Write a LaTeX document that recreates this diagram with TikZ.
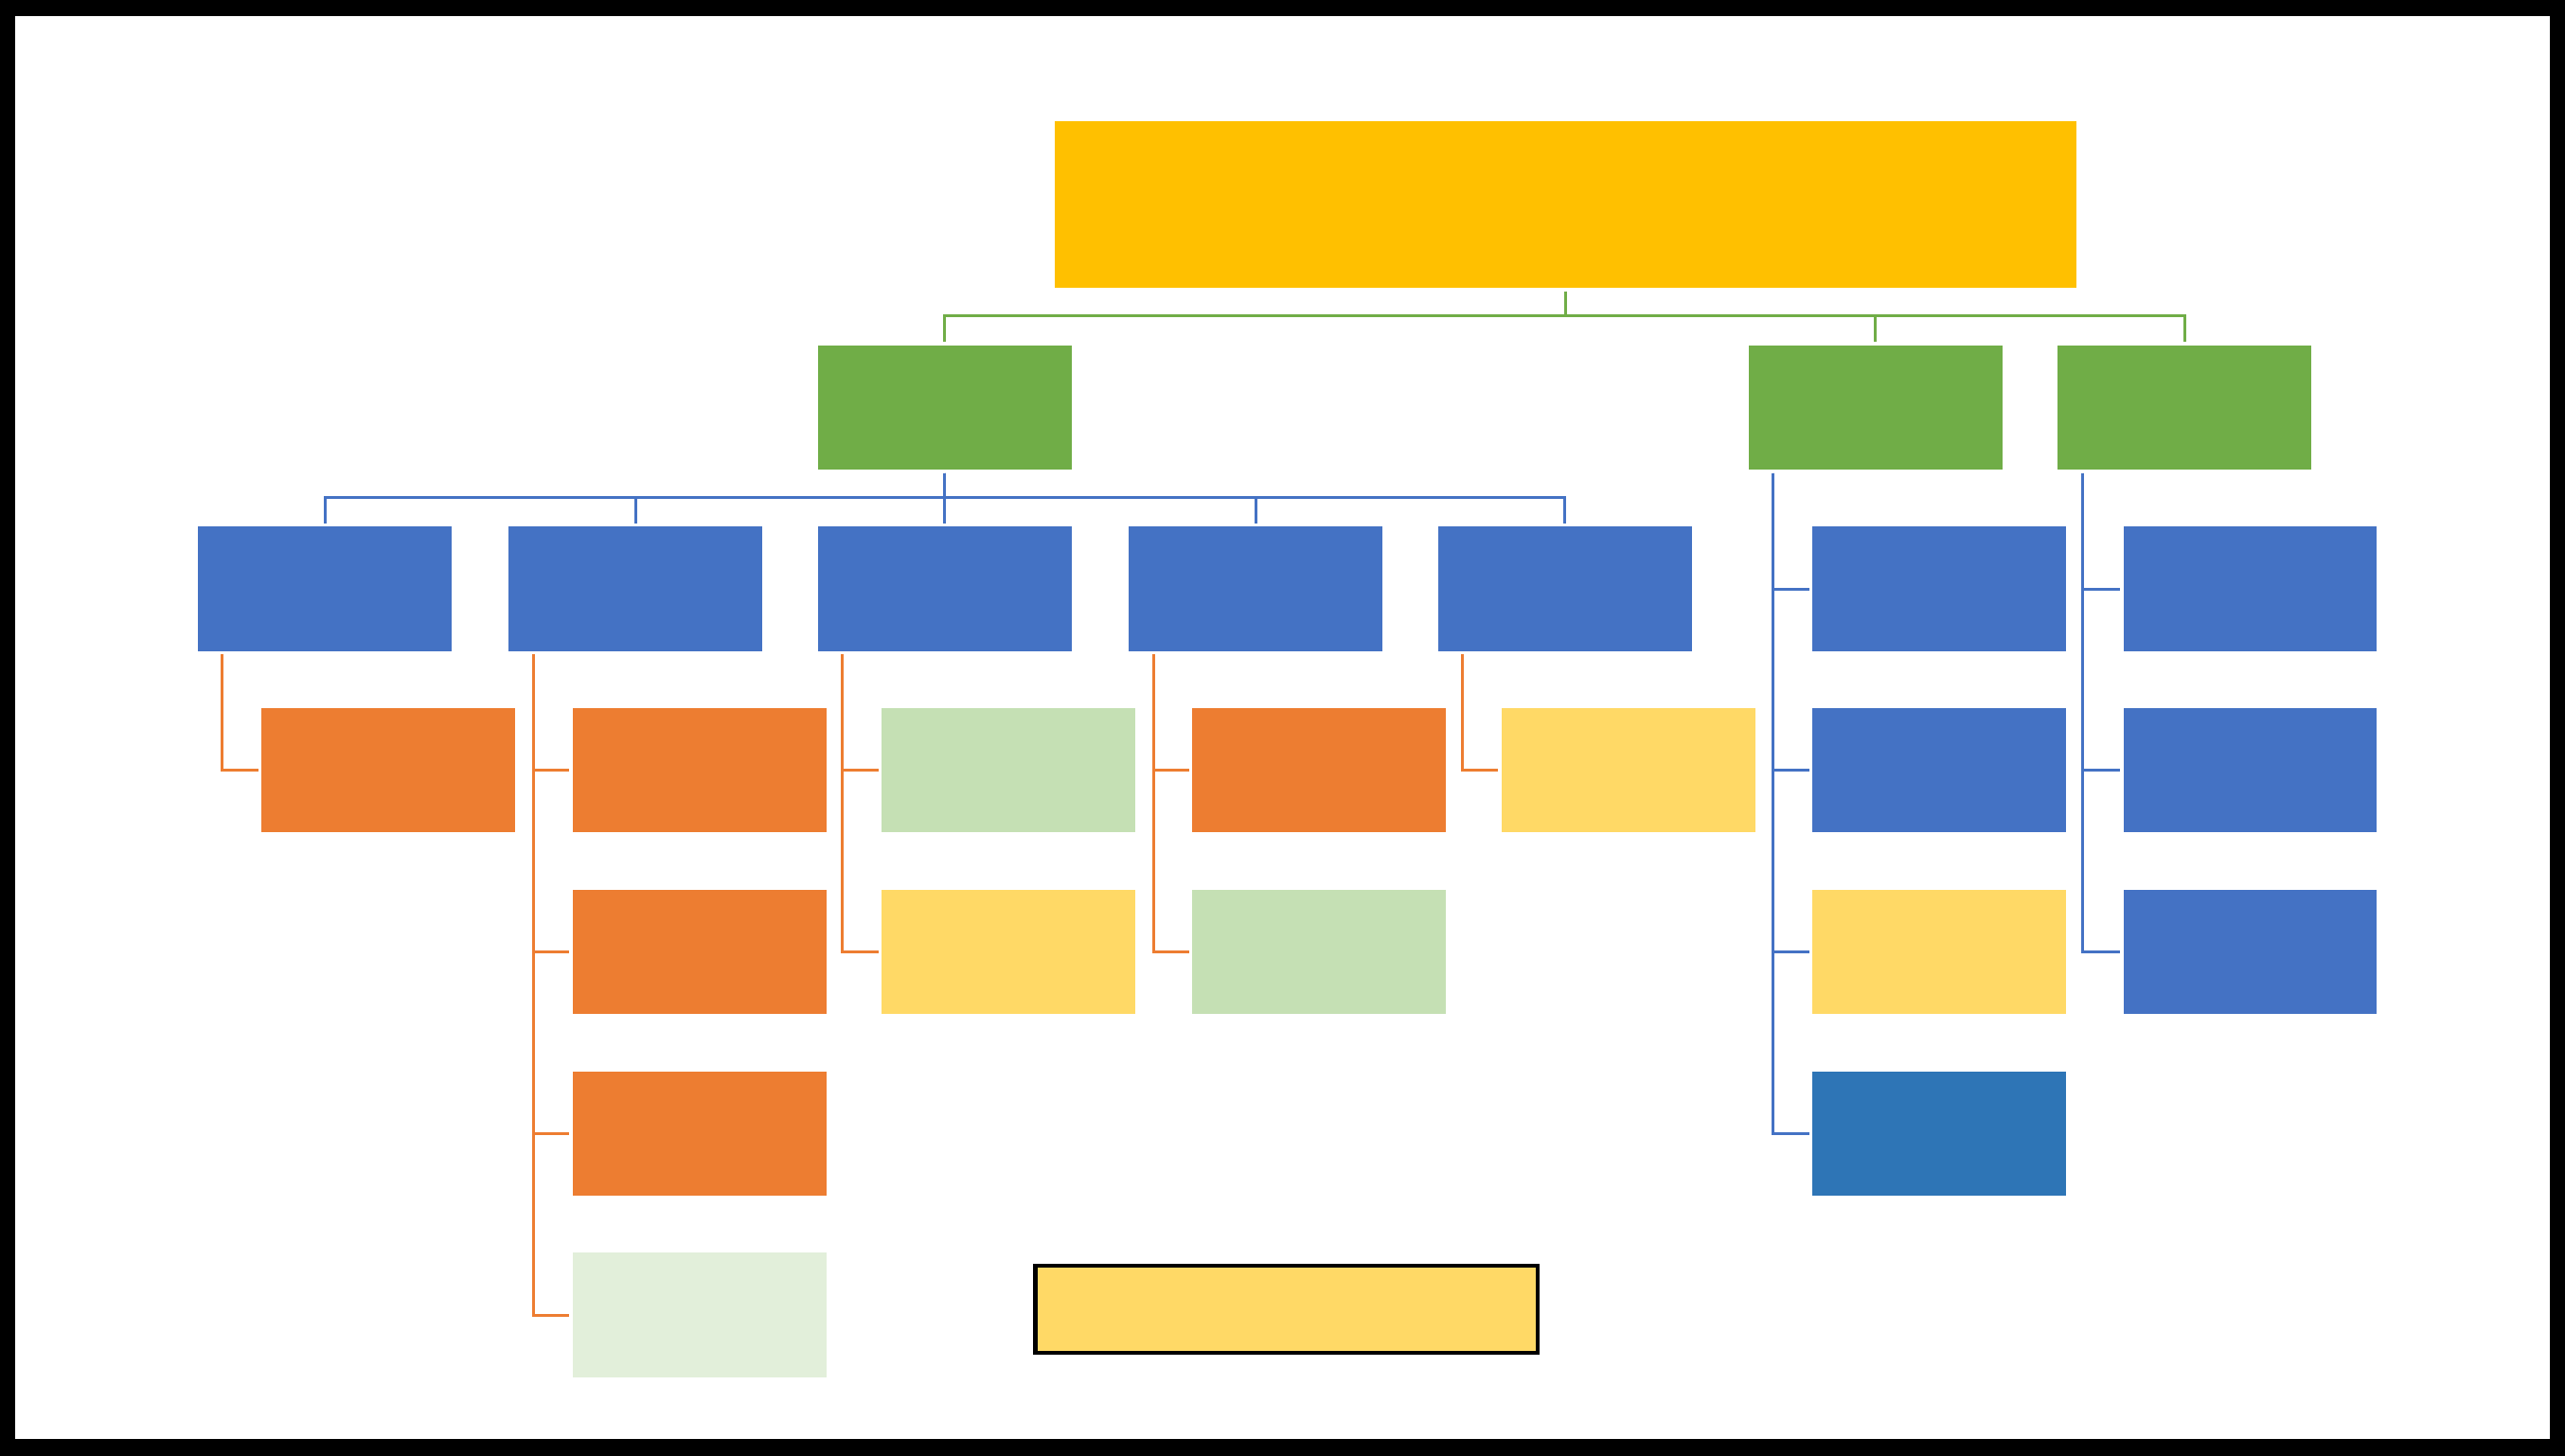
\documentclass[tikz,border=0pt]{standalone}
\usetikzlibrary{calc}

\definecolor{cJaune}{HTML}{FFC000}
\definecolor{cJauneC}{HTML}{FFD966}
\definecolor{cVert}{HTML}{70AD47}
\definecolor{cVertC}{HTML}{C5E0B4}
\definecolor{cVertP}{HTML}{E2EFDA}
\definecolor{cBleu}{HTML}{4472C4}
\definecolor{cBleuF}{HTML}{2E75B6}
\definecolor{cOrange}{HTML}{ED7D31}

\begin{document}
\begin{tikzpicture}[
  x=0.01cm,y=-0.01cm,
  boite/.style={rectangle,inner sep=0pt,outer sep=0pt,
    minimum width=1.55cm,minimum height=0.76cm,anchor=north west},
  lien/.style={line width=0.5pt,shorten <=0.6pt,shorten >=0.6pt},
]
  % Cadre
  \useasboundingbox (0,0) rectangle (1568,890);
  \fill[black] (0,0) rectangle (1568,890);
  \fill[white] (9,10) rectangle (1559,880);

  % Racine
  \node[boite,fill=cJaune,minimum width=6.24cm,minimum height=1.02cm] (R) at (645,74) {};

  % Niveau 1
  \node[boite,fill=cVert] (A) at (500,211) {};
  \node[boite,fill=cVert] (B) at (1069,211) {};
  \node[boite,fill=cVert] (C) at (1258,211) {};

  % Niveau 2
  \foreach \n/\x in {A1/121,A2/311,A3/500,A4/690,A5/879}
    \node[boite,fill=cBleu] (\n) at (\x,322) {};
  \foreach \n/\y/\c in {B1/322/cBleu,B2/433/cBleu,B3/544/cJauneC,B4/655/cBleuF}
    \node[boite,fill=\c] (\n) at (1108,\y) {};
  \foreach \n/\y in {C1/322,C2/433,C3/544}
    \node[boite,fill=cBleu] (\n) at (1298,\y) {};

  % Niveau 3
  \node[boite,fill=cOrange] (a11) at (160,433) {};
  \node[boite,fill=cOrange] (a21) at (350,433) {};
  \node[boite,fill=cOrange] (a22) at (350,544) {};
  \node[boite,fill=cOrange] (a23) at (350,655) {};
  \node[boite,fill=cVertP]  (a24) at (350,766) {};
  \node[boite,fill=cVertC]  (a31) at (539,433) {};
  \node[boite,fill=cJauneC] (a32) at (539,544) {};
  \node[boite,fill=cOrange] (a41) at (729,433) {};
  \node[boite,fill=cVertC]  (a42) at (729,544) {};
  \node[boite,fill=cJauneC] (a51) at (918,433) {};

  % Legende
  \node[boite,fill=cJauneC,draw=black,line width=0.7pt,
    minimum width=3.07cm,minimum height=0.53cm] (L) at (633,774) {};

  % Liaisons
  \coordinate (busV) at (0,193);
  \coordinate (busB) at (0,304);
  \foreach \g in {A,B,C}
    \draw[lien,cVert] (R.south) -- (R.south |- busV) -| (\g.north);
  \foreach \b in {A1,A2,A3,A4,A5}
    \draw[lien,cBleu] (A.south) -- (A.south |- busB) -| (\b.north);
  \foreach \b in {B1,B2,B3,B4}
    \draw[lien,cBleu] ([xshift=0.15cm]B.south west) |- (\b.west);
  \foreach \b in {C1,C2,C3}
    \draw[lien,cBleu] ([xshift=0.15cm]C.south west) |- (\b.west);
  \foreach \p/\e in {A1/a11,A2/a21,A2/a22,A2/a23,A2/a24,A3/a31,A3/a32,A4/a41,A4/a42,A5/a51}
    \draw[lien,cOrange] ([xshift=0.15cm]\p.south west) |- (\e.west);
\end{tikzpicture}
\end{document}
